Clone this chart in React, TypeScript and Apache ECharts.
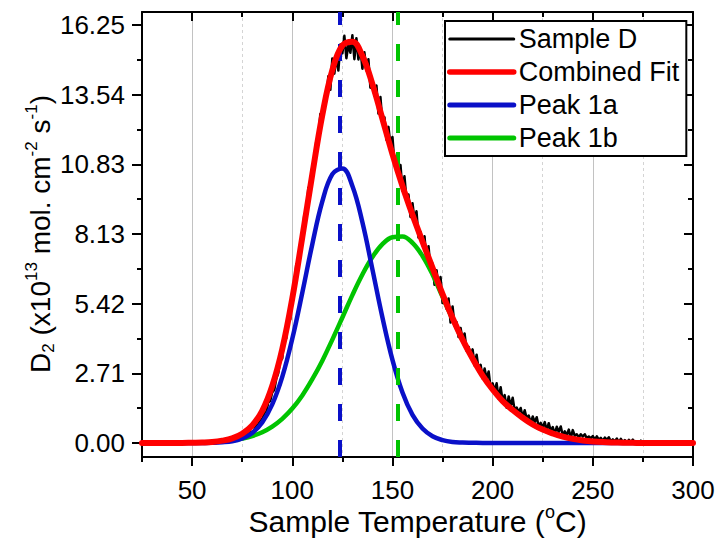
import React, { useEffect, useRef } from 'react';
import * as echarts from 'echarts';

// ---------- axes ----------
const X_MIN = 25;
const X_MAX = 300;
const Y_MIN = -0.545;
const Y_MAX = 16.756;
const X_MAJOR = [50, 100, 150, 200, 250, 300];
const X_MINOR = [25, 75, 125, 175, 225, 275];
const Y_MAJOR = [0, 2.708333, 5.416667, 8.125, 10.833333, 13.541667, 16.25];
const Y_MINOR = [1.354167, 4.0625, 6.770833, 9.479167, 12.1875, 14.895833];

// ---------- fitted curves, sampled every 5 °C from 25 to 300 ----------
const FIT_START = 25;
const FIT_STEP = 5;
const COMBINED_FIT = [
  0, 0, 0, 0, 0,
  0.01, 0.02, 0.04, 0.09, 0.18, 0.36, 0.68, 1.25, 2.22, 3.65,
  5.62, 8.0, 10.45, 12.75, 14.5, 15.45, 15.6, 15.05, 13.95, 12.6,
  11.23, 9.99, 8.87, 7.83, 6.81, 5.79, 4.86, 4.02, 3.28, 2.62,
  2.08, 1.63, 1.28, 0.98, 0.72, 0.52, 0.37, 0.25, 0.16, 0.1,
  0.06, 0.035, 0.02, 0.01, 0.005,
  0, 0, 0, 0, 0, 0,
];
const PEAK_1A = [
  0, 0, 0, 0, 0, 0, 0,
  0.01, 0.03, 0.07, 0.18, 0.39, 0.8, 1.5, 2.57, 4.05, 5.84, 7.73, 9.39,
  10.45, 10.67, 9.99, 8.58, 6.75, 4.88, 3.23, 1.96, 1.09, 0.56, 0.26, 0.11,
  0.04, 0.02, 0.01,
  0, 0, 0, 0, 0, 0, 0, 0, 0, 0, 0, 0, 0, 0, 0, 0, 0, 0, 0, 0, 0, 0,
];
const PEAK_1B = [
  0, 0, 0, 0.002, 0.004, 0.009, 0.018, 0.032, 0.058, 0.1,
  0.17, 0.27, 0.42, 0.64, 0.94, 1.34, 1.85, 2.48, 3.2, 4.02,
  4.88, 5.75, 6.55, 7.23, 7.73, 8.0, 8.03, 7.78, 7.27, 6.55,
  5.68, 4.82, 4.0, 3.27, 2.62, 2.08, 1.63, 1.28, 0.98, 0.72,
  0.52, 0.37, 0.25, 0.16, 0.1, 0.06, 0.035, 0.02, 0.01, 0.005,
  0, 0, 0, 0, 0, 0,
];

// ---------- measured sample, every 1 °C from 60 to 275 ----------
const SAMPLE_START = 60;
const SAMPLE_STEP = 1;
const SAMPLE_D = [
  0.0, 0.01, 0.0, 0.02, 0.01, 0.03, 0.02, 0.05, 0.04, 0.07, 0.07,
  0.11, 0.12, 0.16, 0.17, 0.21, 0.24, 0.32, 0.34, 0.42, 0.44,
  0.49, 0.75, 0.64, 0.96, 0.88, 1.18, 1.19, 1.57, 1.63, 1.97,
  2.06, 2.49, 2.72, 3.19, 3.29, 4.16, 4.07, 4.86, 4.81, 5.85,
  6.0, 6.95, 6.82, 7.67, 7.93, 8.88, 8.79, 9.92, 9.89, 10.74,
  10.71, 11.77, 11.88, 12.79, 12.62, 13.32, 13.29, 14.26, 13.73, 14.95,
  14.36, 15.02, 14.48, 15.49, 15.15, 15.83, 14.96, 15.49, 15.17, 15.85,
  14.92, 15.74, 14.91, 15.33, 14.55, 15.19, 14.48, 14.92, 13.81, 14.1,
  13.5, 13.9, 12.8, 13.45, 12.45, 12.67, 11.78, 12.29, 11.58, 11.9,
  10.84, 11.04, 10.48, 10.81, 9.8, 10.37, 9.45, 9.66, 8.79, 9.32,
  8.65, 9.01, 7.98, 8.21, 7.68, 8.04, 7.06, 7.65, 6.75, 6.98,
  6.15, 6.72, 6.07, 6.45, 5.44, 5.71, 5.22, 5.62, 4.68, 5.31,
  4.56, 4.7, 4.12, 4.47, 4.01, 4.26, 3.58, 3.74, 3.39, 3.64,
  3.01, 3.43, 2.86, 3.04, 2.5, 2.9, 2.49, 2.78, 2.13, 2.32,
  2.02, 2.32, 1.72, 2.17, 1.63, 1.86, 1.37, 1.81, 1.44, 1.76,
  1.26, 1.38, 1.19, 1.36, 1.0, 1.27, 0.95, 1.07, 0.77, 1.03,
  0.81, 1.0, 0.64, 0.78, 0.61, 0.81, 0.48, 0.77, 0.47, 0.62,
  0.35, 0.63, 0.43, 0.64, 0.29, 0.45, 0.31, 0.52, 0.2, 0.5,
  0.28, 0.34, 0.22, 0.34, 0.25, 0.34, 0.18, 0.25, 0.18, 0.27,
  0.13, 0.26, 0.13, 0.2, 0.08, 0.21, 0.12, 0.22, 0.06, 0.14,
  0.07, 0.17, 0.02, 0.16, 0.03, 0.11, -0.01, 0.12, 0.03, 0.13,
  -0.02, 0.05, -0.01, 0.09, -0.05,
];

// peak positions (°C) marked by dashed lines
const PEAK_CENTERS = [123.5, 152.8];

const SERIES_NAMES = ['Sample D', 'Combined Fit', 'Peak 1a', 'Peak 1b'];
const COLORS = { sample: '#000000', fit: '#ff0000', p1a: '#0a10c8', p1b: '#00c400' };

const F = "'Liberation Sans', Arial, Helvetica, sans-serif";

function pairs(start: number, step: number, values: number[]) {
  return values.map((v, i) => [start + i * step, v]);
}

function buildOption(): any {
  const axisLineStyle = { color: '#000', width: 2 };
  const baseX = { type: 'value', min: X_MIN, max: X_MAX, gridIndex: 0 };
  const baseY = { type: 'value', min: Y_MIN, max: Y_MAX, gridIndex: 0 };
  const hiddenLabel = { show: false };
  const noSplit = { show: false };

  const xAxis = [
    {
      ...baseX, position: 'bottom',
      axisLine: { show: true, onZero: false, lineStyle: axisLineStyle },
      axisTick: { show: true, inside: false, length: 9, lineStyle: axisLineStyle, customValues: X_MAJOR },
      axisLabel: { show: true, customValues: X_MAJOR, fontSize: 26, fontFamily: F, color: '#000', margin: 20 },
      splitLine: noSplit,
    },
    {
      ...baseX, position: 'bottom',
      axisLine: { show: false, onZero: false },
      axisTick: { show: true, inside: false, length: 5, lineStyle: axisLineStyle, customValues: X_MINOR },
      axisLabel: hiddenLabel, splitLine: noSplit,
    },
    {
      ...baseX, position: 'top',
      axisLine: { show: true, onZero: false, lineStyle: axisLineStyle },
      axisTick: { show: true, inside: true, length: 9, lineStyle: axisLineStyle, customValues: X_MAJOR },
      axisLabel: hiddenLabel, splitLine: noSplit,
    },
    {
      ...baseX, position: 'top',
      axisLine: { show: false, onZero: false },
      axisTick: { show: true, inside: true, length: 5, lineStyle: axisLineStyle, customValues: X_MINOR },
      axisLabel: hiddenLabel, splitLine: noSplit,
    },
    {
      ...baseX, interval: 25, position: 'bottom',
      axisLine: { show: false, onZero: false }, axisTick: { show: false }, axisLabel: hiddenLabel,
      splitLine: { show: true, lineStyle: { color: ['rgba(0,0,0,0)', '#c2c2c2'], width: 1, type: 'solid' } },
    },
    {
      ...baseX, interval: 25, position: 'bottom',
      axisLine: { show: false, onZero: false }, axisTick: { show: false }, axisLabel: hiddenLabel,
      splitLine: { show: true, lineStyle: { color: ['#d4d4d4', 'rgba(0,0,0,0)'], width: 1, type: [3, 3] } },
    },
  ];

  const yAxis = [
    {
      ...baseY, position: 'left',
      axisLine: { show: true, onZero: false, lineStyle: axisLineStyle },
      axisTick: { show: true, inside: false, length: 10, lineStyle: axisLineStyle, customValues: Y_MAJOR },
      axisLabel: {
        show: true, customValues: Y_MAJOR, fontSize: 26, fontFamily: F, color: '#000', margin: 17,
        formatter: (v: number) => v.toFixed(2),
      },
      splitLine: noSplit,
    },
    {
      ...baseY, position: 'left',
      axisLine: { show: false, onZero: false },
      axisTick: { show: true, inside: false, length: 5, lineStyle: axisLineStyle, customValues: Y_MINOR },
      axisLabel: hiddenLabel, splitLine: noSplit,
    },
    {
      ...baseY, position: 'right',
      axisLine: { show: true, onZero: false, lineStyle: axisLineStyle },
      axisTick: { show: true, inside: true, length: 9, lineStyle: axisLineStyle, customValues: Y_MAJOR },
      axisLabel: hiddenLabel, splitLine: noSplit,
    },
    {
      ...baseY, position: 'right',
      axisLine: { show: false, onZero: false },
      axisTick: { show: true, inside: true, length: 5, lineStyle: axisLineStyle, customValues: Y_MINOR },
      axisLabel: hiddenLabel, splitLine: noSplit,
    },
  ];

  const dashed = (color: string, x: number) => ({
    silent: true,
    symbol: ['none', 'none'],
    label: { show: false },
    z: 3,
    lineStyle: { color, width: 4, type: [17, 19] },
    emphasis: { disabled: true },
    data: [{ xAxis: x }],
  });

  const lineSeries = (name: string, data: number[][], color: string, width: number, z: number, extra: any = {}) => ({
    name, type: 'line', xAxisIndex: 0, yAxisIndex: 0, data,
    symbol: 'none', showSymbol: false, smooth: false,
    lineStyle: { color, width, cap: 'round', join: 'round' },
    itemStyle: { color },
    emphasis: { disabled: true },
    z,
    ...extra,
  });

  const series = [
    lineSeries(SERIES_NAMES[0], pairs(SAMPLE_START, SAMPLE_STEP, SAMPLE_D), COLORS.sample, 2.5, 1),
    lineSeries(SERIES_NAMES[3], pairs(FIT_START, FIT_STEP, PEAK_1B), COLORS.p1b, 4.5, 2,
      { smooth: 0.4, markLine: dashed(COLORS.p1b, PEAK_CENTERS[1]) }),
    lineSeries(SERIES_NAMES[2], pairs(FIT_START, FIT_STEP, PEAK_1A), COLORS.p1a, 4.5, 2,
      { smooth: 0.4, markLine: dashed(COLORS.p1a, PEAK_CENTERS[0]) }),
    lineSeries(SERIES_NAMES[1], pairs(FIT_START, FIT_STEP, COMBINED_FIT), COLORS.fit, 6, 4, { smooth: 0.4 }),
  ];

  const richBase = (size: number) => ({ fontSize: size, fontFamily: F, fill: '#000', lineHeight: size + 6 });
  const richSup = (size: number) => ({ fontSize: size, fontFamily: F, fill: '#000', lineHeight: size + 2, verticalAlign: 'top' });
  const richSub = (size: number) => ({ fontSize: size, fontFamily: F, fill: '#000', lineHeight: size + 2, verticalAlign: 'bottom' });

  return {
    animation: false,
    backgroundColor: '#ffffff',
    grid: { left: 142, right: 25, top: 12, bottom: 83, containLabel: false },
    xAxis, yAxis, series,
    legend: {
      show: true, orient: 'vertical', left: 445, top: 21,
      padding: [3, 7, 3, 2], itemGap: 3, itemWidth: 64, itemHeight: 14,
      backgroundColor: '#ffffff', borderColor: '#000', borderWidth: 2, borderRadius: 0,
      selectedMode: false, z: 10,
      itemStyle: { opacity: 0 },
      textStyle: { fontSize: 27, fontFamily: F, color: '#000', lineHeight: 30 },
      data: [
        { name: SERIES_NAMES[0], lineStyle: { width: 3, color: COLORS.sample } },
        { name: SERIES_NAMES[1], lineStyle: { width: 5.5, color: COLORS.fit } },
        { name: SERIES_NAMES[2], lineStyle: { width: 5, color: COLORS.p1a } },
        { name: SERIES_NAMES[3], lineStyle: { width: 5, color: COLORS.p1b } },
      ],
    },
    graphic: [
      {
        type: 'text', x: 417.5, y: 521, silent: true,
        style: {
          text: '{b|Sample Temperature (}{sup|o}{b|C)}',
          rich: { b: richBase(30), sup: richSup(18) },
          align: 'center', verticalAlign: 'middle', fill: '#000',
        },
      },
      {
        type: 'text', x: 40, y: 234, rotation: Math.PI / 2, silent: true,
        style: {
          text: '{b|D}{sub|2}{b| (x10}{sup|13}{b| mol. cm}{sup|-2}{b| s}{sup|-1}{b|)}',
          rich: { b: richBase(28), sup: richSup(17), sub: richSub(17) },
          align: 'center', verticalAlign: 'middle', fill: '#000',
        },
      },
    ],
  };
}

export default function App() {
  const ref = useRef<HTMLDivElement>(null);
  useEffect(() => {
    if (!ref.current) return;
    const chart = echarts.init(ref.current, null, { renderer: 'svg' });
    chart.setOption(buildOption());
    return () => chart.dispose();
  }, []);
  return (
    <div
      ref={ref}
      style={{ position: 'absolute', left: 0, top: 0, width: 718, height: 540, background: '#fff' }}
    />
  );
}
